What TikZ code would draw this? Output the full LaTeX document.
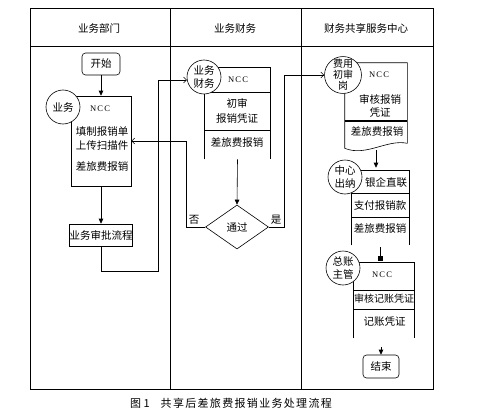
\documentclass[tikz,border=0pt]{standalone}
\usepackage{fontspec}
\setmainfont{Noto Sans CJK SC}
\newfontfamily\nccfont[LetterSpace=14]{Liberation Serif}
\newfontfamily\capfont[LetterSpace=12]{Noto Sans CJK SC}
\usetikzlibrary{arrows.meta,positioning,shapes.geometric}

\begin{document}
\begin{tikzpicture}[x=1pt,y=-1pt,
  line width=0.6pt,
  font=\fontsize{10.5}{14}\selectfont,
  term/.style={rectangle,draw=black,rounded corners=3.5pt,minimum width=38pt,minimum height=22pt,inner sep=0pt},
  role/.style={circle,draw=black,fill=white,minimum size=34pt,inner sep=0pt,align=center,font=\fontsize{10.5}{13}\selectfont},
  docbox/.style={rectangle,inner sep=0pt},
  plainbox/.style={rectangle,draw=black,minimum width=60pt,minimum height=22pt,inner sep=0pt},
  txt/.style={inner sep=0pt,align=center},
  ncc/.style={inner sep=0pt,font=\nccfont\fontsize{8.5}{10}\selectfont},
  check/.style={diamond,draw=black,minimum width=63pt,minimum height=44pt,inner sep=0pt},
  arr/.style={-{Triangle[length=5pt,width=4.5pt]}},
  oarr/.style={-{Straight Barb[length=3pt,width=6pt]}},
  sarr/.style={-{Square[length=5pt,width=5pt]}}
]
\useasboundingbox[fill=white] (0,0) rectangle (482,415);

% swimlane table
\draw[line width=0.8pt] (30,8) rectangle (433,389);
\draw[line width=0.8pt] (30,46) -- (433,46);
\draw[line width=0.8pt] (170,8) -- (170,389);
\draw[line width=0.8pt] (301,8) -- (301,389);
\node (lane1) at (99,28) {业务部门};
\node (lane2) at (235,28) {业务财务};
\node (lane3) at (366,28) {财务共享服务中心};

% lane 1
\node[term] (start) at (101,64) {开始};
\node[docbox,draw=black,minimum width=60pt,minimum height=90pt] (form) at (101,141) {};
\node[ncc] (ncc1) at (100,109) {NCC};
\node[txt] (fill) at (102,139) {填制报销单\\上传扫描件};
\node[txt] (trip1) at (102,167) {差旅费报销};
\node[role] (dept) at (63,107) {业务};
\node[plainbox] (appr) at (101,235) {业务审批流程};

% lane 2
\node[docbox,minimum width=65pt,minimum height=91pt] (chk) at (237.5,113.5) {};
\draw (chk.south west) |- (chk.north east) -- (chk.south east);
\draw (chk.west |- 0,92) -- (chk.east |- 0,92);
\draw (chk.west |- 0,130) -- (chk.east |- 0,130);
\node[ncc] (ncc2) at (238,80) {NCC};
\node[txt,font=\fontsize{10.5}{15}\selectfont] (first) at (237,110.5) {初审\\报销凭证};
\node[txt] (trip2) at (237,143) {差旅费报销};
\node[role] (fin) at (204,77) {业务\\财务};
\node[check] (pass) at (237,227) {通过};
\node[txt] (no) at (194,220) {否};
\node[txt] (yes) at (276,220) {是};

% lane 3
\node[docbox,minimum width=62pt,minimum height=85pt] (rev) at (376,105.5) {};
\draw ([yshift=5pt]rev.south east) -- (rev.north east) -| (rev.south west)
  .. controls (366,157) and (387,139) .. ([yshift=5pt]rev.south east);
\draw[line width=1.1pt] (rev.west |- 0,121) -- (rev.east |- 0,121);
\node[ncc] (ncc3) at (379,75) {NCC};
\node[txt,font=\fontsize{10.5}{13}\selectfont] (audit) at (380,105.5) {审核报销\\凭证};
\node[txt] (trip3) at (377,132) {差旅费报销};
\node[role,font=\fontsize{10}{11}\selectfont] (cost) at (343,75) {费用\\初审\\岗};

\node[docbox,minimum width=57pt,minimum height=74pt] (pay) at (380.5,208) {};
\draw (pay.south west) |- (pay.north east) -- (pay.south east);
\draw (pay.west |- 0,193) -- (pay.east |- 0,193);
\draw (pay.west |- 0,217) -- (pay.east |- 0,217);
\node[txt] (bank) at (386,183) {银企直联};
\node[txt] (remit) at (380,206) {支付报销款};
\node[txt] (trip4) at (380,229) {差旅费报销};
\node[role] (cash) at (345,177) {中心\\出纳};

\node[docbox,minimum width=60pt,minimum height=75pt] (post) at (384,300.5) {};
\draw (post.south west) |- (post.north east) -- (post.south east);
\draw (post.west |- 0,290) -- (post.east |- 0,290);
\draw (post.west |- 0,309) -- (post.east |- 0,309);
\node[ncc] (ncc4) at (382,275) {NCC};
\node[txt,font=\fontsize{10}{12}\selectfont] (vouch) at (384,299) {审核记账凭证};
\node[txt] (book) at (384.5,322) {记账凭证};
\node[role] (gl) at (343,268) {总账\\主管};
\node[term,minimum width=36pt,minimum height=23pt] (stop) at (381,366.5) {结束};

% connectors
\draw[arr] (start) -- (form);
\draw[arr] (form) -- (appr);
\draw[oarr] (appr.south) -- ++(0,25) -- ++(57,0) |- (fin.190);
\draw[arr] (chk.south) -- (pass.north);
\draw[oarr] (pass.west) -- ++(-18.5,0) |- (form.east);
\draw[oarr] (pass.east) -- ++(15,0) |- (cost.west);
\draw[arr,shorten <=2pt,shorten >=3pt] (rev.south) -- (rev.south |- pay.north);
\draw[sarr,shorten <=2pt,shorten >=2pt] (pay.south) -- (pay.south |- post.north);
\draw[arr,shorten <=9pt] (stop.north |- post.south) -- (stop.north);

% caption
\node (cap) at (231,403) {\fontsize{11}{13}\selectfont 图 1\quad{\capfont 共享后差旅费报销业务处理流程}};
\end{tikzpicture}
\end{document}
